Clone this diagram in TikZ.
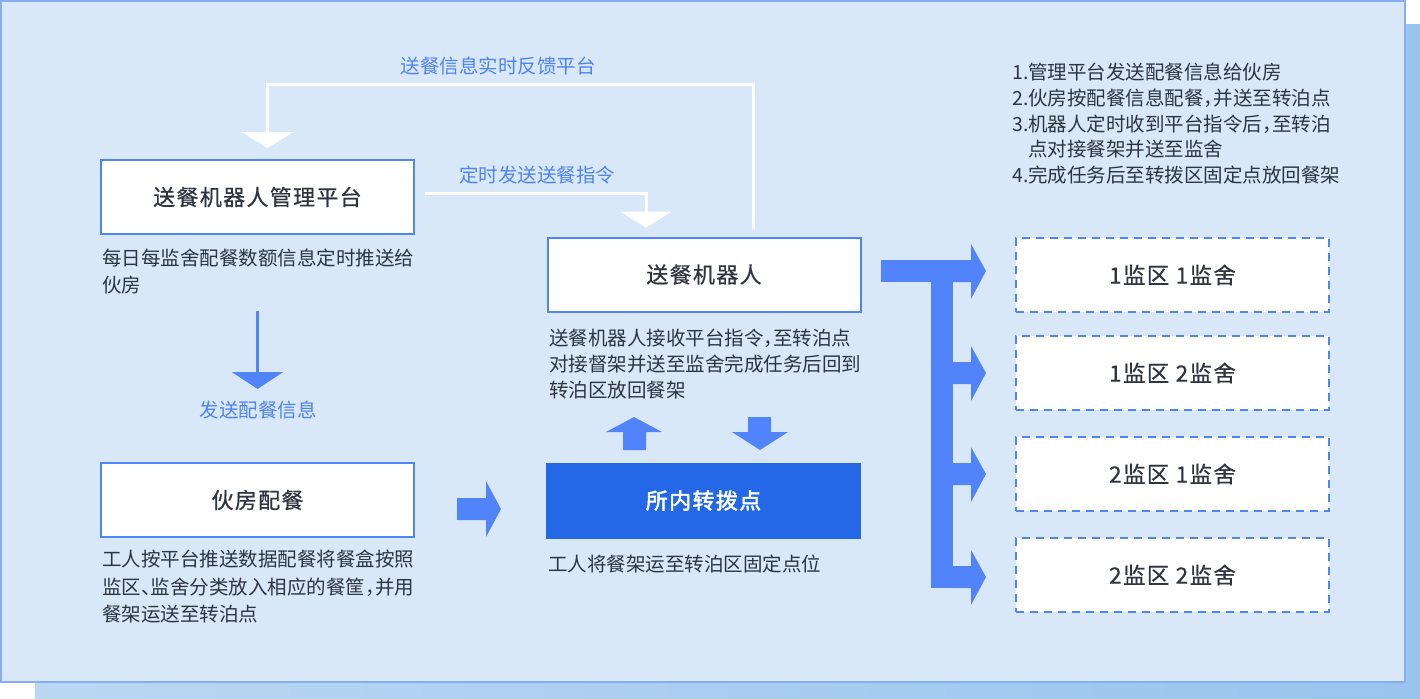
\documentclass[tikz,border=0pt]{standalone}
\usepackage{fontspec}
\setmainfont{Noto Sans CJK SC}
\newfontfamily\titlefam{Noto Sans CJK SC}[LetterSpace=6,FakeBold=0.6]
\newfontfamily\hubfam{Noto Sans CJK SC}[LetterSpace=6,FakeBold=2.2]
\newfontfamily\halfw{Noto Sans CJK SC}[RawFeature=+halt]
\usetikzlibrary{arrows.meta}
\definecolor{panel}{HTML}{D8E8F8}
\definecolor{panelborder}{HTML}{86AEF0}
\definecolor{shadowL}{HTML}{BAD7F3}
\definecolor{shadowR}{HTML}{98C4EE}
\definecolor{boxblue}{HTML}{4F86F7}
\definecolor{arrowblue}{HTML}{5184FB}
\definecolor{deepblue}{HTML}{2468E8}
\definecolor{labelblue}{HTML}{4F84F0}
\definecolor{txt}{HTML}{2E3440}
\begin{document}
\begin{tikzpicture}[x=1pt,y=-1pt,
  titlebox/.style={draw=boxblue, line width=2pt, fill=white, minimum width=313pt, minimum height=74pt, inner sep=0pt, font=\titlefam\fontsize{22}{26}\selectfont, text=txt},
  hubbox/.style={titlebox, draw=deepblue, fill=deepblue, text=white, font=\hubfam\fontsize{22}{26}\selectfont},
  dashbox/.style={draw=boxblue, line width=2.5pt, dash pattern=on 8pt off 6pt, fill=white, minimum width=313pt, minimum height=74pt, inner sep=0pt, font=\titlefam\fontsize{22.5}{26}\selectfont, text=txt},
  caption/.style={anchor=north west, inner sep=0pt, align=left, text=txt},
  flowlabel/.style={inner sep=0pt, text=labelblue, font=\fontsize{19.5}{24}\selectfont},
  link/.style={draw=white, line width=3pt, -{Triangle[width=52pt,length=16pt]}},
  bluelink/.style={draw=arrowblue, line width=3pt, -{Triangle[width=51pt,length=17pt]}},
  fatarrow/.style={fill=arrowblue, draw=none}
]
\useasboundingbox (0,0) rectangle (1420,698);
% shadow and panel
\shade[left color=shadowL, right color=shadowR] (35,25) rectangle (1420,698);
\draw[fill=panel, draw=panelborder, line width=2pt] (1,1) rectangle (1405,682);

% main boxes
\node[titlebox] (plat) at (257.5,197) {送餐机器人管理平台};
\node[titlebox] (kitchen) at (257.5,500) {伙房配餐};
\node[titlebox] (robot) at (704,274.5) {送餐机器人};
\node[hubbox] (hub) at (703.5,500.5) {所内转拨点};

% captions
\node[caption, font=\fontsize{19.5}{27}\selectfont] (platcap) at (102,249) {每日每监舍配餐数额信息定时推送给\\伙房};
\node[caption, font=\fontsize{19.5}{27.5}\selectfont] (kitcap) at (102,550) {工人按平台推送数据配餐将餐盒按照\\监区{\halfw 、}监舍分类放入相应的餐筐{\halfw ，}并用\\餐架运送至转泊点};
\node[caption, font=\fontsize{19.5}{26}\selectfont] (robotcap) at (549,329) {送餐机器人接收平台指令{\halfw ，}至转泊点\\对接督架并送至监舍完成任务后回到\\转泊区放回餐架};
\node[caption, font=\fontsize{19.5}{26}\selectfont] (hubcap) at (548,555) {工人将餐架运至转泊区固定点位};

% step list
\node[caption, font=\fontsize{19.5}{25.7}\selectfont] (steps) at (1012,63) {1.管理平台发送配餐信息给伙房\\2.伙房按配餐信息配餐{\halfw ，}并送至转泊点\\3.机器人定时收到平台指令后{\halfw ，}至转泊\\\phantom{3.}点对接餐架并送至监舍\\4.完成任务后至转拨区固定点放回餐架};

% flow labels
\node[flowlabel] (fbl) at (498,66) {送餐信息实时反馈平台};
\node[flowlabel] (cmdl) at (537,175) {定时发送送餐指令};
\node[flowlabel] (sendl) at (258,410) {发送配餐信息};

% white connectors
\coordinate (fbtop) at (500,85);
\draw[link] ([xshift=49pt,yshift=7.5pt]robot.north) |- (fbtop) -| ([xshift=10pt,yshift=11pt]plat.north);
\draw[link] ([xshift=10pt,yshift=4pt]plat.east) -| ([xshift=-58pt,yshift=9pt]robot.north);
% platform -> kitchen
\draw[bluelink] ([yshift=-76pt]plat.south) -- ([yshift=73pt]kitchen.north);

% fat arrows
\fill[fatarrow] (457,498) -- (486,498) -- (486,481) -- (501,509) -- (486,537) -- (486,520) -- (457,520) -- cycle;
\fill[fatarrow] (623,450) -- (623,432) -- (606,432) -- (634,417) -- (662,432) -- (646,432) -- (646,450) -- cycle;
\fill[fatarrow] (748,417) -- (771,417) -- (771,432) -- (788,432) -- (760,450) -- (732,432) -- (748,432) -- cycle;

% distribution bus
\fill[fatarrow] (881,260) rectangle (953,282);
\fill[fatarrow] (931,260) rectangle (953,588);
\foreach \c in {271,373,474,577}{
  \fill[fatarrow] (952,\c-11) -- (971,\c-11) -- (971,\c-27) -- (986,\c) -- (971,\c+28) -- (971,\c+11) -- (952,\c+11) -- cycle;
}

% destination boxes
\node[dashbox] (d11) at (1172.5,275) {1监区 1监舍};
\node[dashbox] (d12) at (1172.5,373) {1监区 2监舍};
\node[dashbox] (d21) at (1172.5,474) {2监区 1监舍};
\node[dashbox] (d22) at (1172.5,575) {2监区 2监舍};
\end{tikzpicture}
\end{document}
